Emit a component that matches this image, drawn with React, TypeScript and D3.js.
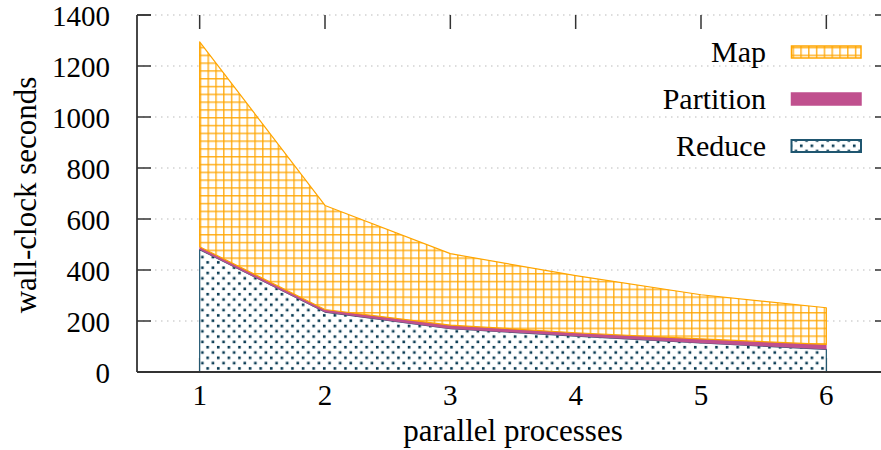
import React from "react";
import * as d3 from "d3";

const processes = [1, 2, 3, 4, 5, 6];
const reduceValues = [480, 235, 170, 141, 114, 89];
const partitionValues = [11, 10, 14, 13, 16, 19];
const mapValues = [804, 408, 280, 224, 173, 144];
const yTicks = [0, 200, 400, 600, 800, 1000, 1200, 1400];
const xTicks = [1, 2, 3, 4, 5, 6];
const seriesNames = ["Reduce", "Partition", "Map"];

const W = 881;
const H = 450;
const FONT = "Liberation Serif, DejaVu Serif, Times New Roman, serif";

export default function App() {
  const x = d3.scaleLinear().domain([0.5, 6.5]).range([137, 889]);
  const y = d3.scaleLinear().domain([0, 1400]).range([372, 15]);

  const rows = processes.map((p, i) => ({
    p,
    Reduce: reduceValues[i],
    Partition: partitionValues[i],
    Map: mapValues[i],
  }));
  const stacked = d3.stack<any>().keys(seriesNames)(rows);
  const area = d3
    .area<any>()
    .x((d) => x(d.data.p))
    .y0((d) => y(d[0]))
    .y1((d) => y(d[1]));

  const styles: Record<string, { fill: string; stroke: string }> = {
    Reduce: { fill: "url(#dots)", stroke: "#1f5670" },
    Partition: { fill: "#c0508e", stroke: "#c0508e" },
    Map: { fill: "url(#grid)", stroke: "#ffa500" },
  };

  const legendItems = [
    { name: "Map", cy: 52 },
    { name: "Partition", cy: 99 },
    { name: "Reduce", cy: 146 },
  ];

  return (
    <svg width={W} height={H} fontFamily={FONT} style={{ position: "absolute", left: 0, top: 0, background: "#fff" }}>
      <defs>
        <pattern id="grid" patternUnits="userSpaceOnUse" width={7.8} height={7.8} x={x(1)} y={0}>
          <rect width={7.8} height={7.8} fill="#fff" />
          <line x1={0.75} x2={0.75} y1={0} y2={7.8} stroke="#ffa500" strokeWidth={1.5} opacity={0.85} />
          <line x1={0} x2={7.8} y1={0.75} y2={0.75} stroke="#ffa500" strokeWidth={1.5} opacity={0.85} />
        </pattern>
        <pattern id="dots" patternUnits="userSpaceOnUse" width={10.6} height={10.6} x={x(1)} y={0}>
          <rect width={10.6} height={10.6} fill="#fff" />
          <rect x={1.4} y={1.4} width={2.6} height={2.6} fill="#083a52" />
          <rect x={6.7} y={6.7} width={2.6} height={2.6} fill="#083a52" />
        </pattern>
      </defs>

      {/* grid lines */}
      {yTicks.map((t) => (
        <line
          key={"g" + t}
          x1={x.range()[0]}
          x2={x.range()[1]}
          y1={y(t)}
          y2={y(t)}
          stroke="#bbbbbb"
          strokeWidth={1.2}
          strokeDasharray="1.5,4.5"
        />
      ))}

      {/* ticks (inward) */}
      {yTicks.map((t) => (
        <g key={"yt" + t}>
          <line x1={137} x2={151} y1={y(t)} y2={y(t)} stroke="#333" strokeWidth={1.5} />
          <line x1={875} x2={889} y1={y(t)} y2={y(t)} stroke="#333" strokeWidth={1.5} />
        </g>
      ))}
      {xTicks.map((t) => (
        <g key={"xt" + t}>
          <line x1={x(t)} x2={x(t)} y1={372} y2={358} stroke="#333" strokeWidth={1.5} />
          <line x1={x(t)} x2={x(t)} y1={15} y2={29} stroke="#333" strokeWidth={1.5} />
        </g>
      ))}

      {/* stacked areas */}
      {stacked.map((s) => (
        <path
          key={s.key}
          d={area(s) || ""}
          fill={styles[s.key].fill}
          stroke={styles[s.key].stroke}
          strokeWidth={s.key === "Partition" ? 0.5 : 1.2}
          strokeLinejoin="round"
        />
      ))}

      {/* axes */}
      <line x1={137} x2={137} y1={15} y2={372} stroke="#333" strokeWidth={1.8} />
      <line x1={137} x2={889} y1={372} y2={372} stroke="#333" strokeWidth={1.8} />
      <line x1={137} x2={151} y1={15} y2={15} stroke="#333" strokeWidth={1.5} />

      {/* tick labels */}
      {yTicks.map((t) => (
        <text key={"yl" + t} x={110} y={y(t) + 10.5} textAnchor="end" fontFamily={FONT} fontSize={29} fill="#000">
          {t}
        </text>
      ))}
      {xTicks.map((t) => (
        <text key={"xl" + t} x={x(t)} y={405} textAnchor="middle" fontFamily={FONT} fontSize={29} fill="#000">
          {t}
        </text>
      ))}

      {/* axis titles */}
      <text x={513} y={441} textAnchor="middle" fontFamily={FONT} fontSize={31} fill="#000">
        parallel processes
      </text>
      <text
        transform={`translate(36,195) rotate(-90)`}
        textAnchor="middle"
        fontFamily={FONT}
        fontSize={31}
        fill="#000"
      >
        wall-clock seconds
      </text>

      {/* legend */}
      {legendItems.map((l) => (
        <g key={"lg" + l.name}>
          <text x={766} y={l.cy + 10} textAnchor="end" fontFamily={FONT} fontSize={30} fill="#000">
            {l.name}
          </text>
          <rect
            x={791.5}
            y={l.cy - 6}
            width={69.5}
            height={12}
            fill={styles[l.name].fill}
            stroke={styles[l.name].stroke}
            strokeWidth={l.name === "Reduce" ? 2 : 1.5}
          />
        </g>
      ))}
    </svg>
  );
}
